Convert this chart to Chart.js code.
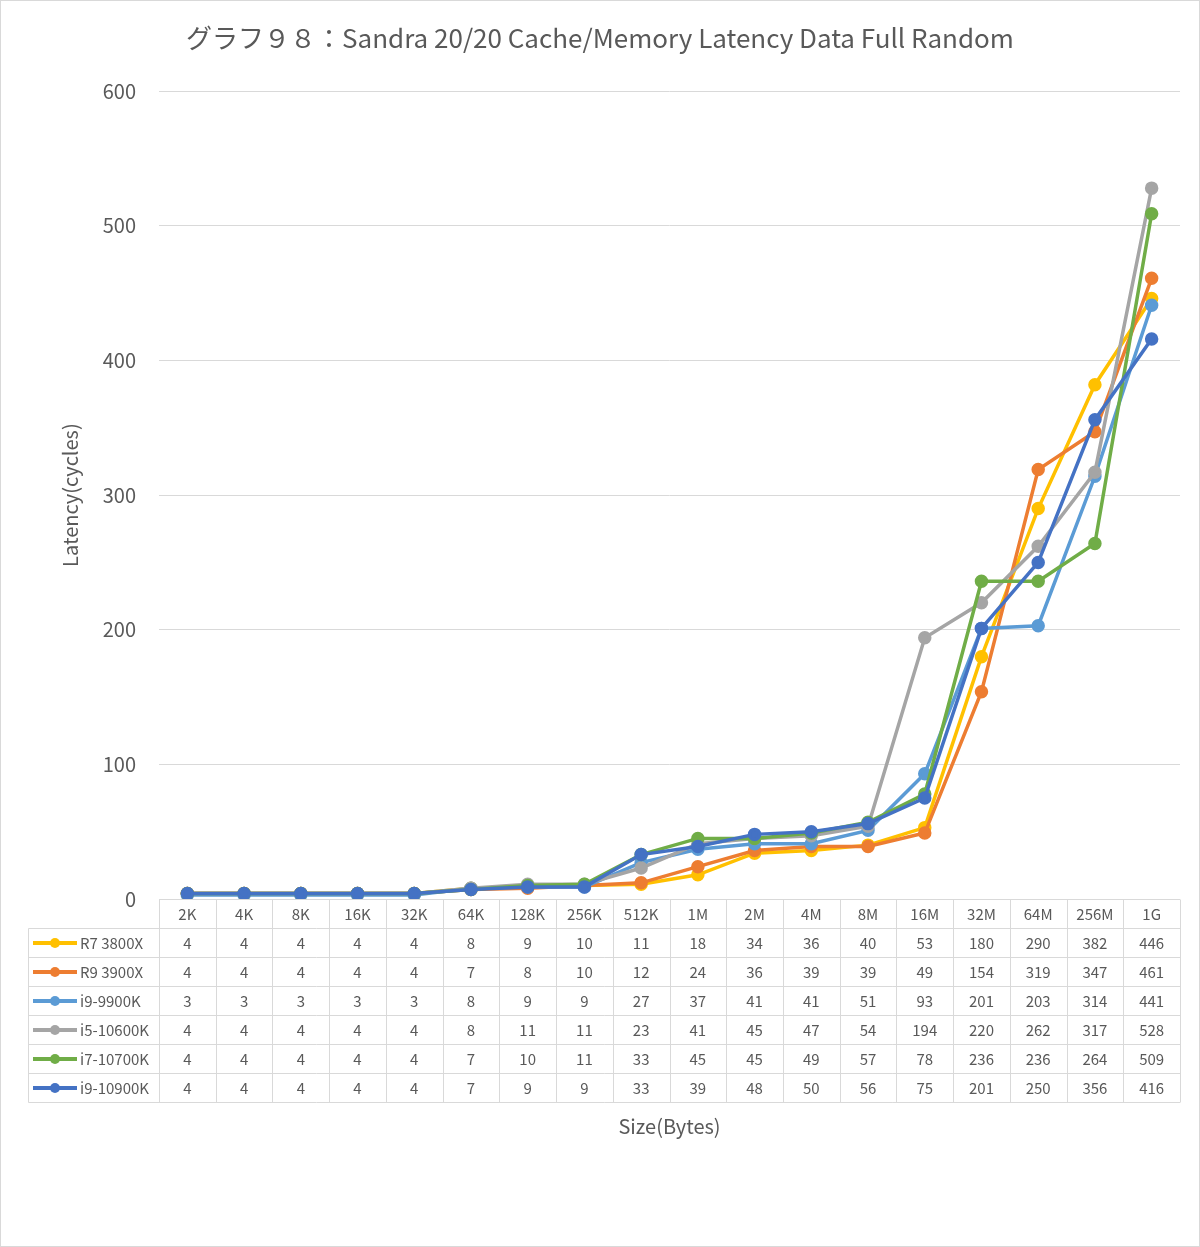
<!DOCTYPE html>
<html>
<head>
<meta charset="utf-8">
<script src="https://cdn.jsdelivr.net/npm/chart.js@4/dist/chart.umd.min.js"></script>
<style>
  html, body { margin: 0; padding: 0; background: #fff; }
  #wrap { width: 1200px; height: 1247px; }
</style>
</head>
<body>
<div id="wrap"><canvas id="c"></canvas></div>
<script>
const sizes = ['2K', '4K', '8K', '16K', '32K', '64K', '128K', '256K', '512K', '1M', '2M', '4M', '8M', '16M', '32M', '64M', '256M', '1G'];

const r7_3800x  = [4, 4, 4, 4, 4, 8, 9, 10, 11, 18, 34, 36, 40, 53, 180, 290, 382, 446];
const r9_3900x  = [4, 4, 4, 4, 4, 7, 8, 10, 12, 24, 36, 39, 39, 49, 154, 319, 347, 461];
const i9_9900k  = [3, 3, 3, 3, 3, 8, 9, 9, 27, 37, 41, 41, 51, 93, 201, 203, 314, 441];
const i5_10600k = [4, 4, 4, 4, 4, 8, 11, 11, 23, 41, 45, 47, 54, 194, 220, 262, 317, 528];
const i7_10700k = [4, 4, 4, 4, 4, 7, 10, 11, 33, 45, 45, 49, 57, 78, 236, 236, 264, 509];
const i9_10900k = [4, 4, 4, 4, 4, 7, 9, 9, 33, 39, 48, 50, 56, 75, 201, 250, 356, 416];

const seriesNames = ['R7 3800X', 'R9 3900X', 'i9-9900K', 'i5-10600K', 'i7-10700K', 'i9-10900K'];
const seriesData = [r7_3800x, r9_3900x, i9_9900k, i5_10600k, i7_10700k, i9_10900k];
const seriesColors = ['#FFC000', '#ED7D31', '#5B9BD5', '#A5A5A5', '#70AD47', '#4472C4'];

const yTicks = [0, 100, 200, 300, 400, 500, 600];

const FONT = '"Noto Sans CJK JP", "Noto Sans", sans-serif';
const TXT = '#595959';
const GRID = '#d9d9d9';

// white background + thin outer frame
const frame = {
  id: 'frame',
  beforeDraw(chart) {
    const { ctx, width, height } = chart;
    ctx.save();
    ctx.fillStyle = '#fff';
    ctx.fillRect(0, 0, width, height);
    ctx.strokeStyle = GRID;
    ctx.lineWidth = 1;
    ctx.strokeRect(0.5, 0.5, width - 1, height - 1);
    ctx.restore();
  }
};

// Excel-style data table under the plot, columns follow the x scale
const dataTable = {
  id: 'dataTable',
  afterDraw(chart) {
    const { ctx, chartArea } = chart;
    const xs = chart.scales.x;
    const n = sizes.length;
    const colW = (chartArea.right - chartArea.left) / n;
    const top = Math.round(chartArea.bottom) + 0.5;
    const headH = 29, rowH = 29;
    const tableLeft = 28.5;
    const rowsTop = top + headH;
    const bottom = rowsTop + rowH * seriesNames.length;

    ctx.save();
    ctx.strokeStyle = GRID;
    ctx.lineWidth = 1;
    ctx.beginPath();
    for (let r = 0; r <= seriesNames.length; r++) {
      const y = rowsTop + r * rowH;
      ctx.moveTo(tableLeft, y);
      ctx.lineTo(chartArea.right, y);
    }
    for (let c = 0; c <= n; c++) {
      const x = Math.round(chartArea.left + c * colW) + 0.5;
      ctx.moveTo(x, top);
      ctx.lineTo(x, bottom);
    }
    ctx.moveTo(tableLeft, rowsTop);
    ctx.lineTo(tableLeft, bottom);
    ctx.stroke();

    ctx.fillStyle = TXT;
    ctx.font = '15px ' + FONT;
    ctx.textAlign = 'center';
    ctx.textBaseline = 'middle';
    sizes.forEach((s, i) => {
      ctx.fillText(s, xs.getPixelForValue(i), top + headH / 2);
    });

    seriesNames.forEach((name, r) => {
      const cy = rowsTop + r * rowH + rowH / 2;
      // legend key
      ctx.strokeStyle = seriesColors[r];
      ctx.lineWidth = 4;
      ctx.beginPath();
      ctx.moveTo(33, cy);
      ctx.lineTo(77, cy);
      ctx.stroke();
      ctx.fillStyle = seriesColors[r];
      ctx.beginPath();
      ctx.arc(55, cy, 5, 0, Math.PI * 2);
      ctx.fill();

      ctx.fillStyle = TXT;
      ctx.textAlign = 'left';
      ctx.fillText(name, 80, cy);
      ctx.textAlign = 'center';
      seriesData[r].forEach((v, i) => {
        ctx.fillText(String(v), xs.getPixelForValue(i), cy);
      });
    });

    // x axis title
    ctx.font = '20px ' + FONT;
    ctx.fillText('Size(Bytes)', (chartArea.left + chartArea.right) / 2, 1126);
    ctx.restore();
  }
};

const ctx = document.getElementById('c').getContext('2d');

new Chart(ctx, {
  type: 'line',
  data: {
    labels: sizes,
    datasets: seriesNames.map((name, i) => ({
      label: name,
      data: seriesData[i],
      borderColor: seriesColors[i],
      backgroundColor: seriesColors[i],
      pointBackgroundColor: seriesColors[i],
      pointBorderColor: seriesColors[i],
      borderWidth: 3.5,
      pointRadius: 5,
      tension: 0,
      order: seriesNames.length - i   // later series on top, like Excel
    }))
  },
  options: {
    responsive: true,
    maintainAspectRatio: false,
    animation: false,
    layout: { padding: { left: 20, right: 20, top: 0, bottom: 348 } },
    plugins: {
      legend: { display: false },
      tooltip: { enabled: false },
      title: {
        display: true,
        text: 'グラフ９８：Sandra 20/20 Cache/Memory Latency Data Full Random',
        color: TXT,
        font: { family: FONT, size: 26, weight: 'normal' },
        padding: { top: 23, bottom: 37 }
      }
    },
    scales: {
      x: {
        type: 'category',
        display: false,
        offset: true
      },
      y: {
        min: 0,
        max: 600,
        afterBuildTicks(scale) {
          scale.ticks = yTicks.map(v => ({ value: v }));
        },
        afterFit(scale) {
          scale.width = 139;
        },
        border: { display: false },
        grid: { color: GRID, lineWidth: 1, drawTicks: false },
        ticks: {
          color: TXT,
          padding: 23,
          font: { family: FONT, size: 20 }
        },
        title: {
          display: true,
          text: 'Latency(cycles)',
          color: TXT,
          font: { family: FONT, size: 20 },
          padding: { top: 38, bottom: 4 }
        }
      }
    }
  },
  plugins: [frame, dataTable]
});
</script>
</body>
</html>
